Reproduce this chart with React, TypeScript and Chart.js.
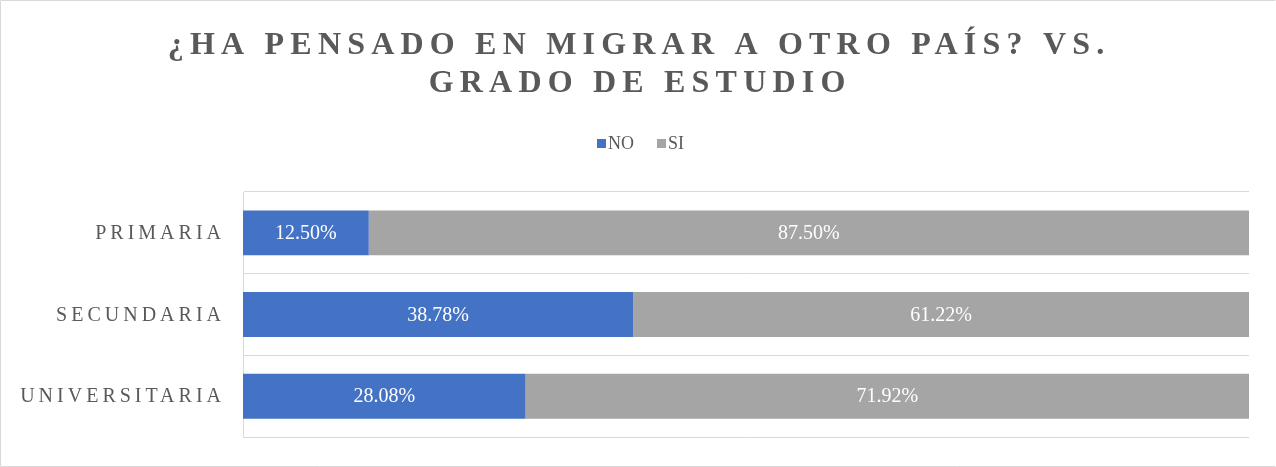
import React, { useEffect, useRef } from "react";
import { Chart, registerables } from "chart.js";

Chart.register(...registerables);

const categories = ["PRIMARIA", "SECUNDARIA", "UNIVERSITARIA"];
const noValues = [12.5, 38.78, 28.08];
const siValues = [87.5, 61.22, 71.92];
const seriesNames = ["NO", "SI"];
const titleLines = ["¿HA PENSADO EN MIGRAR A OTRO PAÍS? VS.", "GRADO DE ESTUDIO"];

const W = 1276;
const H = 467;
const FONT = "'Liberation Serif', 'Times New Roman', serif";
const TEXT = "#595959";

const decorPlugin = {
  id: "decor",
  beforeDraw(chart: any) {
    const ctx = chart.ctx as any;
    ctx.save();
    ctx.fillStyle = "#ffffff";
    ctx.fillRect(0, 0, W, H);
    ctx.restore();
  },
  afterDraw(chart: any) {
    const ctx = chart.ctx as any;
    // border
    ctx.save();
    ctx.strokeStyle = "#d9d9d9";
    ctx.lineWidth = 1;
    ctx.beginPath();
    ctx.moveTo(W - 0.5, 0.5);
    ctx.lineTo(0.5, 0.5);
    ctx.lineTo(0.5, H - 0.5);
    ctx.lineTo(W - 0.5, H - 0.5);
    ctx.stroke();
    ctx.restore();

    // title
    ctx.save();
    const ts = 6.2;
    ctx.letterSpacing = ts + "px";
    ctx.font = "bold 32px " + FONT;
    ctx.fillStyle = TEXT;
    ctx.textAlign = "center";
    ctx.textBaseline = "alphabetic";
    ctx.fillText(titleLines[0], 636 + ts / 2, 54);
    ctx.fillText(titleLines[1], 637 + ts / 2, 92);
    ctx.restore();

    // legend
    ctx.save();
    ctx.font = "18px " + FONT;
    ctx.textBaseline = "alphabetic";
    ctx.textAlign = "left";
    const ds = chart.data.datasets;
    const legendX = [597, 657];
    ds.forEach((d: any, i: number) => {
      ctx.fillStyle = d.backgroundColor;
      ctx.fillRect(legendX[i], 139, 9, 9);
      ctx.fillStyle = TEXT;
      ctx.fillText(d.label, legendX[i] + 11, 149);
    });
    ctx.restore();

    // category labels
    const yScale = chart.scales.y;
    ctx.save();
    const ls = 4;
    ctx.letterSpacing = ls + "px";
    ctx.font = "20px " + FONT;
    ctx.fillStyle = TEXT;
    ctx.textAlign = "right";
    ctx.textBaseline = "middle";
    chart.data.labels.forEach((lab: string, i: number) => {
      const y = yScale.getPixelForTick(i);
      ctx.fillText(lab, 221 + ls, y + 1);
    });
    ctx.restore();
  },
  afterDatasetsDraw(chart: any) {
    const ctx = chart.ctx;
    ctx.save();
    ctx.font = "20px " + FONT;
    ctx.fillStyle = "#ffffff";
    ctx.textAlign = "center";
    ctx.textBaseline = "middle";
    chart.data.datasets.forEach((d: any, di: number) => {
      const meta = chart.getDatasetMeta(di);
      meta.data.forEach((el: any, i: number) => {
        const v = d.data[i];
        const x = (el.x + el.base) / 2;
        ctx.fillText(v.toFixed(2) + "%", x, el.y + 1);
      });
    });
    ctx.restore();
  },
};

export default function App() {
  const ref = useRef<HTMLCanvasElement | null>(null);
  useEffect(() => {
    if (!ref.current) return;
    const chart = new Chart(ref.current, {
      type: "bar",
      data: {
        labels: categories,
        datasets: [
          { label: seriesNames[0], data: noValues, backgroundColor: "#4472C4", borderWidth: 0 },
          { label: seriesNames[1], data: siValues, backgroundColor: "#A5A5A5", borderWidth: 0 },
        ],
      },
      options: {
        indexAxis: "y",
        responsive: false,
        animation: false,
        devicePixelRatio: 1,
        categoryPercentage: 1,
        barPercentage: 0.55,
        layout: { padding: { left: 243, right: 27, top: 192, bottom: 30 } },
        plugins: {
          legend: { display: false },
          title: { display: false },
          tooltip: { enabled: false },
        },
        scales: {
          x: { stacked: true, min: 0, max: 100, display: false },
          y: {
            stacked: true,
            grid: { offset: true, color: "#d9d9d9", drawTicks: false, lineWidth: 1 },
            border: { display: true, color: "#d9d9d9" },
            ticks: { display: false },
          },
        },
      } as any,
      plugins: [decorPlugin],
    });
    return () => chart.destroy();
  }, []);
  return (
    <div style={{ position: "absolute", left: 0, top: 0, width: W, height: H }}>
      <canvas ref={ref} width={W} height={H} style={{ display: "block" }} />
    </div>
  );
}
